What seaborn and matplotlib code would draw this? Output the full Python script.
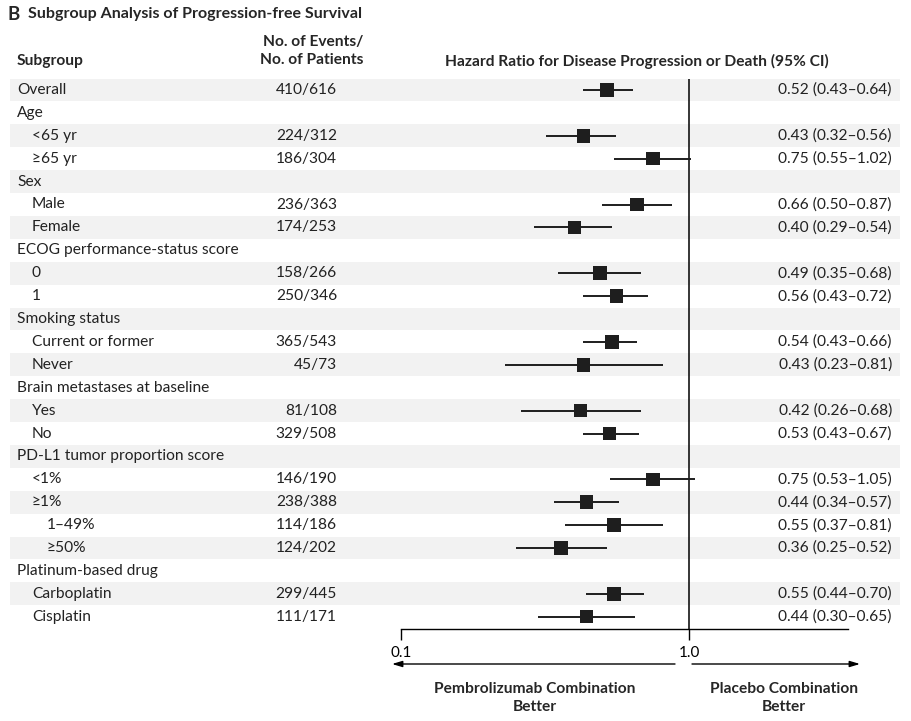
import matplotlib

matplotlib.use("Agg")
import matplotlib.pyplot as plt
import matplotlib.transforms as mtransforms
import numpy as np
import pandas as pd
import seaborn as sns

# rows of the forest plot, top to bottom
labels = [
    "Overall", "Age", "<65 yr", "\u226565 yr", "Sex", "Male", "Female",
    "ECOG performance-status score", "0", "1", "Smoking status",
    "Current or former", "Never", "Brain metastases at baseline", "Yes", "No",
    "PD-L1 tumor proportion score", "<1%", "\u22651%", "1\u201349%", "\u226550%",
    "Platinum-based drug", "Carboplatin", "Cisplatin",
]
indent = [0, 0, 1, 1, 0, 1, 1, 0, 1, 1, 0, 1, 1, 0, 1, 1, 0, 1, 1, 2, 2, 0, 1, 1]
events = [
    "410/616", "", "224/312", "186/304", "", "236/363", "174/253", "", "158/266",
    "250/346", "", "365/543", "45/73", "", "81/108", "329/508", "", "146/190",
    "238/388", "114/186", "124/202", "", "299/445", "111/171",
]
hr = [0.52, np.nan, 0.43, 0.75, np.nan, 0.66, 0.40, np.nan, 0.49, 0.56, np.nan,
      0.54, 0.43, np.nan, 0.42, 0.53, np.nan, 0.75, 0.44, 0.55, 0.36, np.nan, 0.55, 0.44]
ci_low = [0.43, np.nan, 0.32, 0.55, np.nan, 0.50, 0.29, np.nan, 0.35, 0.43, np.nan,
          0.43, 0.23, np.nan, 0.26, 0.43, np.nan, 0.53, 0.34, 0.37, 0.25, np.nan, 0.44, 0.30]
ci_high = [0.64, np.nan, 0.56, 1.02, np.nan, 0.87, 0.54, np.nan, 0.68, 0.72, np.nan,
           0.66, 0.81, np.nan, 0.68, 0.67, np.nan, 1.05, 0.57, 0.81, 0.52, np.nan, 0.70, 0.65]

df = pd.DataFrame({"label": labels, "indent": indent, "events": events,
                   "hr": hr, "lo": ci_low, "hi": ci_high})
df["row"] = np.arange(len(df))

W, H = 912, 721


def fx(px):
    return px / W


def fy(py):
    return 1 - py / H


sns.set_theme(style="white")
plt.rcParams["font.family"] = ["Lato", "DejaVu Sans"]

fig = plt.figure(figsize=(W / 100, H / 100), dpi=100)
ax = fig.add_axes([fx(401), fy(629), fx(848) - fx(401), (629 - 79) / H])

# y mapping: row 0 at 90 px, spacing 22.9 px
row_h = 22.9
ax.set_ylim((629 - 90) / row_h, (79 - 90) / row_h)
ax.set_xscale("log")
ax.set_xlim(0.1, 3.565)

# alternating shaded rows
for r in df["row"]:
    if r % 2 == 0:
        ax.axhspan(r - 0.5, r + 0.5, xmin=(10 - 401) / 447, xmax=(900 - 401) / 447,
                   color="#f2f2f2", lw=0, zorder=0, clip_on=False)

ax.axvline(1.0, color="black", lw=1.1, zorder=2)

pts = df.dropna(subset=["hr"])
ax.hlines(pts["row"], pts["lo"], pts["hi"], color="#1e1e1e", lw=1.4, zorder=3)
sns.scatterplot(data=pts, x="hr", y="row", marker="s", s=95, color="#1e1e1e",
                edgecolor="none", linewidth=0, zorder=4, ax=ax, legend=False)

ax.set_xticks([0.1, 1.0])
ax.set_xticklabels(["0.1", "1.0"])
ax.minorticks_off()
ax.tick_params(axis="x", direction="out", length=8, width=1, pad=4,
               labelsize=11, colors="black", bottom=True)
ax.set_yticks([])
ax.set_xlabel("")
ax.set_ylabel("")
for side in ["left", "top", "right"]:
    ax.spines[side].set_visible(False)
ax.spines["bottom"].set_color("black")
ax.spines["bottom"].set_linewidth(1)

trans = mtransforms.blended_transform_factory(fig.transFigure, ax.transData)
fs = 11.2
for _, r in df.iterrows():
    ax.text(fx(17 + 15 * r["indent"]), r["row"], r["label"], transform=trans,
            ha="left", va="center", fontsize=fs, color="#222222", clip_on=False)
    if r["events"]:
        ax.text(fx(337), r["row"], r["events"], transform=trans,
                ha="right", va="center", fontsize=fs, color="#222222", clip_on=False)
    if not np.isnan(r["hr"]):
        ax.text(fx(892), r["row"],
                f"{r['hr']:.2f} ({r['lo']:.2f}\u2013{r['hi']:.2f})",
                transform=trans, ha="right", va="center", fontsize=fs,
                color="#222222", clip_on=False)

# headers
fig.text(fx(8), fy(14), "B", fontsize=13.5, fontweight="bold", ha="left", va="center")
fig.text(fx(28), fy(14), "Subgroup Analysis of Progression-free Survival",
         fontsize=11.5, fontweight="bold", ha="left", va="center")
fig.text(fx(17), fy(61), "Subgroup", fontsize=fs, fontweight="bold",
         ha="left", va="center")
fig.text(fx(363), fy(51), "No. of Events/\nNo. of Patients", fontsize=fs,
         fontweight="bold", ha="right", va="center", linespacing=1.4)
fig.text(fx(637), fy(61), "Hazard Ratio for Disease Progression or Death (95% CI)",
         fontsize=fs, fontweight="bold", ha="center", va="center")

# direction arrows
arrow = dict(arrowstyle="-|>,head_length=0.6,head_width=0.18", color="black", lw=1,
             shrinkA=0, shrinkB=0)
fig.add_artist(matplotlib.patches.FancyArrowPatch(
    (fx(675), fy(664)), (fx(392), fy(664)), transform=fig.transFigure,
    mutation_scale=10, **arrow))
fig.add_artist(matplotlib.patches.FancyArrowPatch(
    (fx(692), fy(664)), (fx(860), fy(664)), transform=fig.transFigure,
    mutation_scale=10, **arrow))
fig.text(fx(535), fy(698), "Pembrolizumab Combination\nBetter", fontsize=fs,
         fontweight="bold", ha="center", va="center", linespacing=1.45)
fig.text(fx(784), fy(698), "Placebo Combination\nBetter", fontsize=fs,
         fontweight="bold", ha="center", va="center", linespacing=1.45)

fig.savefig("out.png", dpi=100)
